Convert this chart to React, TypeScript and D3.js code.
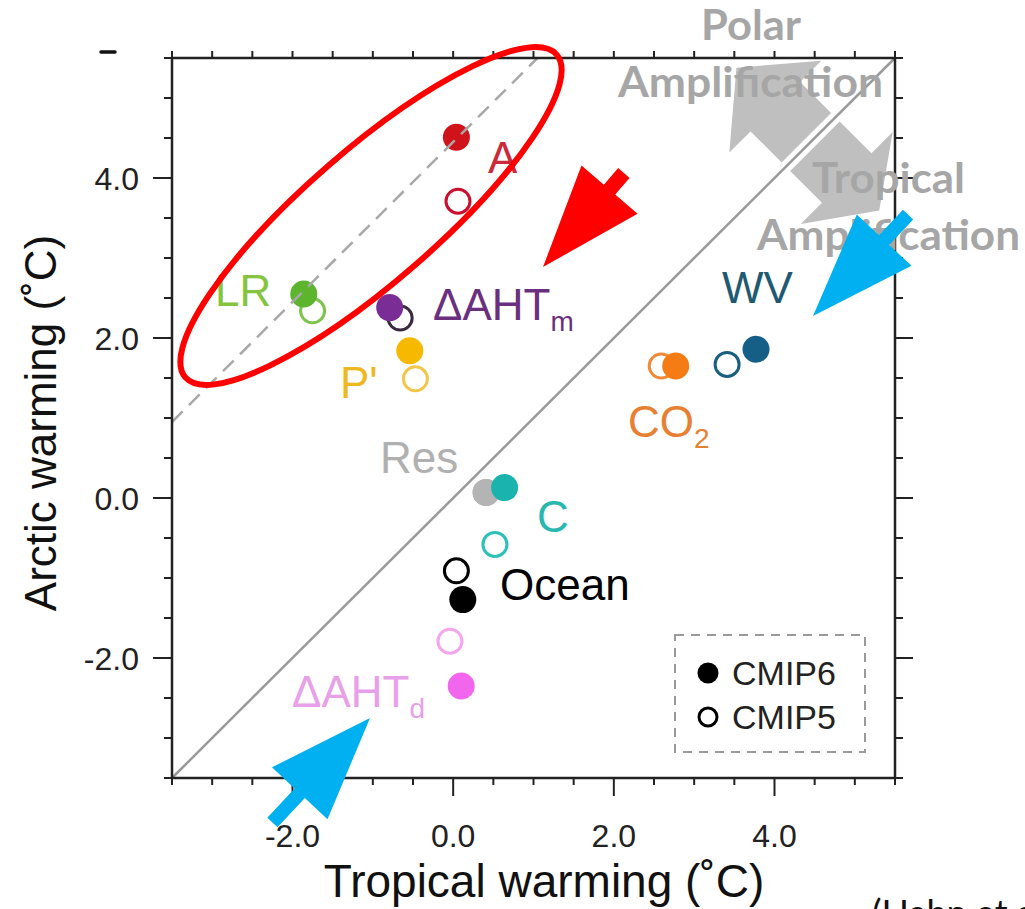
import React from "react";
import * as d3 from "d3";

// Feedback contributions to warming: tropical (x) vs Arctic (y), in °C
const categories = ["A", "LR", "ΔAHTm", "P'", "Res", "C", "Ocean", "ΔAHTd", "CO2", "WV"];
const cmip6Tropical = [0.04, -1.86, -0.79, -0.54, 0.41, 0.64, 0.12, 0.1, 2.77, 3.77];
const cmip6Arctic = [4.51, 2.55, 2.38, 1.84, 0.07, 0.13, -1.27, -2.35, 1.65, 1.86];
const cmip5Tropical = [0.06, -1.75, -0.66, -0.47, 0.41, 0.52, 0.04, -0.04, 2.59, 3.41];
const cmip5Arctic = [3.71, 2.34, 2.25, 1.49, 0.07, -0.58, -0.91, -1.79, 1.65, 1.67];

const majorTicks = [-2, 0, 2, 4];
const tickLabels = ["-2.0", "0.0", "2.0", "4.0"];
const axisDomain: [number, number] = [-3.5, 5.5];
const minorStep = 0.5;
// offset of the dashed guide line (Arctic = Tropical + offset)
const guideOffset = 4.45;
// point on the 1:1 line where the amplification arrows meet
const amplificationPivot = 4.45;

// styling per category
const markerColors = ["#d0121b", "#5cb52c", "#7b2d96", "#f7b800", "#b4b4b4", "#1ab3ae", "#000000", "#f266ee", "#f57c14", "#155f86"];
const openColors = ["#c8102e", "#7cc44c", "#3a2a40", "#f2c64a", "#b4b4b4", "#2cc0b8", "#000000", "#f3a6ef", "#f08a3a", "#1b5f80"];
const labelColors = ["#cc2a3a", "#86c440", "#6b2f80", "#f0b820", "#b0b0b0", "#28b8b0", "#000000", "#e8a0e8", "#e88034", "#1f5a72"];
const labelMain = ["A", "LR", "ΔAHT", "P'", "Res", "C", "Ocean", "ΔAHT", "CO", "WV"];
const labelSub = ["", "", "m", "", "", "", "", "d", "2", ""];
const labelPos: [number, number][] = [
  [488, 173], [215, 306], [433, 320], [340, 398], [380, 473],
  [537, 532], [500, 600], [292, 707], [628, 437], [722, 303],
];

const W = 1025;
const H = 909;
const plot = { left: 172, right: 895, top: 58, bottom: 778 };
const sans = "'Liberation Sans', Arial, Helvetica, sans-serif";
const callout = "Lato, 'Open Sans', sans-serif";

type Pt = [number, number];

function notchedArrow(tip: Pt, toward: Pt, headLen: number, headHalf: number, shaftHalf: number, shaftLen: number): string {
  const len = Math.hypot(toward[0], toward[1]);
  const d: Pt = [toward[0] / len, toward[1] / len];
  const p: Pt = [-d[1], d[0]];
  const base: Pt = [tip[0] + d[0] * headLen, tip[1] + d[1] * headLen];
  const at = (along: number, side: number): Pt => [
    base[0] + d[0] * along + p[0] * side,
    base[1] + d[1] * along + p[1] * side,
  ];
  const pts: Pt[] = [
    tip,
    at(0, headHalf),
    at(0, shaftHalf),
    at(shaftLen, shaftHalf),
    at(shaftLen, -shaftHalf),
    at(0, -shaftHalf),
    at(0, -headHalf),
  ];
  return pts.map((q) => q.join(",")).join(" ");
}

export default function App() {
  const x = d3.scaleLinear().domain(axisDomain).range([plot.left, plot.right]);
  const y = d3.scaleLinear().domain(axisDomain).range([plot.bottom, plot.top]);
  const allTicks = d3.range(axisDomain[0], axisDomain[1] + 1e-6, minorStep);
  const isMajor = (v: number) => majorTicks.some((m) => Math.abs(m - v) < 1e-6);

  // dashed guide clipped to the frame
  const gx0 = axisDomain[0];
  const gx1 = axisDomain[1] - guideOffset;

  // amplification arrows pivot on the 1:1 line
  const cx = x(amplificationPivot);
  const cy = y(amplificationPivot);
  const s = Math.SQRT1_2;
  const upTip: Pt = [cx - 105 * s, cy - 105 * s];
  const downTip: Pt = [cx + 97 * s, cy + 97 * s];

  const r6 = 13.5;
  const r5 = 12;

  return (
    <svg width={W} height={H} style={{ position: "absolute", left: 0, top: 0, background: "#fff" }} xmlns="http://www.w3.org/2000/svg">
      <rect x={0} y={0} width={W} height={H} fill="#fff" />

      {/* 1:1 line */}
      <line x1={x(axisDomain[0])} y1={y(axisDomain[0])} x2={x(axisDomain[1])} y2={y(axisDomain[1])} stroke="#9a9a9a" strokeWidth={2.5} />

      {/* CMIP5 (open) markers */}
      {categories.map((c, i) => (
        <circle key={"o" + c} cx={x(cmip5Tropical[i])} cy={y(cmip5Arctic[i])} r={r5} fill="#fff" fillOpacity={0} stroke={openColors[i]} strokeWidth={3} />
      ))}
      {/* CMIP6 (filled) markers */}
      {categories.map((c, i) => (
        <circle key={"f" + c} cx={x(cmip6Tropical[i])} cy={y(cmip6Arctic[i])} r={r6} fill={markerColors[i]} />
      ))}

      {/* dashed guide */}
      <line x1={x(gx0)} y1={y(gx0 + guideOffset)} x2={x(gx1)} y2={y(gx1 + guideOffset)} stroke="#a8a8a8" strokeWidth={2.5} strokeDasharray="15 9" />

      {/* category labels */}
      {categories.map((c, i) => (
        <text key={"t" + c} x={labelPos[i][0]} y={labelPos[i][1]} fill={labelColors[i]} fontFamily={sans} fontSize={44}>
          {labelMain[i]}
          {labelSub[i] && (
            <tspan fontSize={28} dy={11}>{labelSub[i]}</tspan>
          )}
        </text>
      ))}

      {/* frame */}
      <rect x={plot.left} y={plot.top} width={plot.right - plot.left} height={plot.bottom - plot.top} fill="none" stroke="#222" strokeWidth={2.5} />

      {/* ticks */}
      {allTicks.map((v) => {
        const maj = isMajor(v);
        return (
          <g key={"tk" + v} stroke="#222" strokeWidth={2}>
            <line x1={plot.left - (maj ? 19 : 8)} x2={plot.left} y1={y(v)} y2={y(v)} />
            <line x1={plot.right} x2={plot.right + (maj ? 18 : 8)} y1={y(v)} y2={y(v)} />
            <line x1={x(v)} x2={x(v)} y1={plot.bottom} y2={plot.bottom + (maj ? 18 : 7)} />
            <line x1={x(v)} x2={x(v)} y1={plot.top - 7} y2={plot.top} />
          </g>
        );
      })}
      {majorTicks.map((v, i) => (
        <text key={"yl" + v} x={139} y={y(v)} dy="0.36em" textAnchor="end" fontFamily={sans} fontSize={32} fill="#222">{tickLabels[i]}</text>
      ))}
      {majorTicks.map((v, i) => (
        <text key={"xl" + v} x={x(v)} y={847} textAnchor="middle" fontFamily={sans} fontSize={32} fill="#222">{tickLabels[i]}</text>
      ))}

      {/* axis titles */}
      <text x={544} y={897} textAnchor="middle" fontFamily={sans} fontSize={46} fill="#111">Tropical warming (˚C)</text>
      <text transform={`translate(56,423) rotate(-90)`} textAnchor="middle" fontFamily={sans} fontSize={44} fill="#111">Arctic warming (˚C)</text>

      {/* legend */}
      <rect x={675} y={635} width={190} height={117} fill="#fff" stroke="#9a9a9a" strokeWidth={2} strokeDasharray="9 7" />
      <circle cx={708} cy={673} r={10.5} fill="#000" />
      <text x={732} y={685} fontFamily={sans} fontSize={34} fill="#222">CMIP6</text>
      <circle cx={708} cy={717} r={9} fill="none" stroke="#000" strokeWidth={3} />
      <text x={732} y={729} fontFamily={sans} fontSize={34} fill="#222">CMIP5</text>

      {/* stray mark above the frame */}
      <line x1={101} x2={115} y1={52} y2={52} stroke="#111" strokeWidth={3.5} strokeLinecap="round" />

      {/* polar / tropical amplification arrows */}
      <polygon points={notchedArrow(upTip, [1, 1], 55, 65, 35, 44)} fill="#bfbfbf" />
      <polygon points={notchedArrow(downTip, [-1, -1], 46, 65, 35, 45)} fill="#bfbfbf" />
      <g fontFamily={callout} fontWeight={700} fontSize={42} fill="#a6a6a6">
        <text x={701} y={40} textLength={100} lengthAdjust="spacingAndGlyphs">Polar</text>
        <text x={618} y={97} textLength={265} lengthAdjust="spacingAndGlyphs">Amplification</text>
        <text x={812} y={193} textLength={153} lengthAdjust="spacingAndGlyphs">Tropical</text>
        <text x={757} y={250} textLength={263} lengthAdjust="spacingAndGlyphs">Amplification</text>
      </g>

      {/* highlight ellipse and pointers */}
      <ellipse cx={371} cy={216} rx={246} ry={66} transform="rotate(-41 371 216)" fill="none" stroke="#ff0000" strokeWidth={6} />
      <polygon points={notchedArrow([543, 267], [66.7, -77.5], 102, 37, 7.5, 22)} fill="#ff0000" />
      <polygon points={notchedArrow([813, 316], [70.9, -75.6], 104, 37.5, 7, 35)} fill="#00b0f0" />
      <polygon points={notchedArrow([370, 718], [-70, 75], 103, 38, 7, 40)} fill="#00b0f0" />

      {/* citation, cut at the lower edge */}
      <text x={872} y={926} fontFamily={callout} fontSize={36} fill="#111">(Hahn et al., 2021)</text>
    </svg>
  );
}
